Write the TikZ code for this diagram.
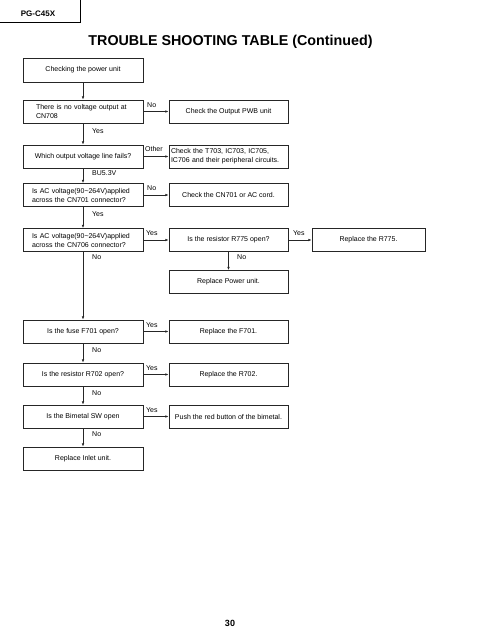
\documentclass[tikz,border=0pt]{standalone}
\usepackage{fontspec}
\setmainfont{Liberation Sans}
\usetikzlibrary{arrows.meta}
\begin{document}
\begin{tikzpicture}[x=1pt,y=-1pt,
 box/.style={draw=black!85, line width=0.8pt, minimum height=23pt, inner sep=0pt, font=\fontsize{7}{9}\selectfont, align=center},
 lbox/.style={box, minimum width=120pt},
 rbox/.style={box, minimum width=119pt},
 lbl/.style={font=\fontsize{7}{9}\selectfont, anchor=west, inner sep=0pt},
 arr/.style={draw=black!85, line width=0.7pt, -{Latex[length=3.2pt,width=2.6pt]}}
]
\useasboundingbox (0,0) rectangle (495,640);
% header
\coordinate (hA) at (0,22);
\coordinate (hB) at (80,22);
\coordinate (hC) at (80,0);
\draw[line width=0.8pt] (hA) -- (hB) -- (hC);
\node[font=\bfseries\fontsize{8}{10}\selectfont, inner sep=0pt] (model) at (38,14) {PG-C45X};
\node[font=\bfseries\fontsize{14.3}{16}\selectfont, inner sep=0pt] (title) at (230.5,42) {TROUBLE SHOOTING TABLE (Continued)};

% left column
\node[lbox, minimum height=24pt] (b1) at (83,70) {Checking the power unit};
\node[lbox, align=left, text width=94pt, inner xsep=13pt] (b2) at (83,111.5) {There is no voltage output at\\CN708};
\node[lbox] (b3) at (83,156.5) {Which output voltage line fails?};
\node[lbox, align=left, text width=102pt, inner xsep=9pt] (b4) at (83,195) {Is AC voltage(90\textasciitilde264V)applied\\across the CN701 connector?};
\node[lbox, align=left, text width=102pt, inner xsep=9pt] (b5) at (83,240) {Is AC voltage(90\textasciitilde264V)applied\\across the CN706 connector?};
\node[lbox] (b6) at (83,331.5) {Is the fuse F701 open?};
\node[lbox] (b7) at (83,374.5) {Is the resistor R702 open?};
\node[lbox] (b8) at (83,416.5) {Is the Bimetal SW open};
\node[lbox] (b9) at (83,458.5) {Replace Inlet unit.};

% right column
\node[rbox] (r2) at (228.5,111.5) {Check the Output PWB unit};
\node[rbox, align=left, text width=115pt, inner xsep=2pt] (r3) at (228.5,156.5) {Check the T703, IC703, IC705,\\IC706 and their peripheral circuits.};
\node[rbox] (r4) at (228.5,195) {Check the CN701 or AC cord.};
\node[rbox] (r5) at (228.5,240) {Is the resistor R775 open?};
\node[rbox] (rp) at (228.5,282) {Replace Power unit.};
\node[rbox] (r6) at (228.5,331.5) {Replace the F701.};
\node[rbox] (r7) at (228.5,374.5) {Replace the R702.};
\node[rbox] (r8) at (228.5,416.5) {Push the red button of the bimetal.};
\node[box, minimum width=113pt] (x5) at (368.5,240) {Replace the R775.};

% vertical arrows
\draw[arr] (b1) -- (b2);
\draw[arr] (b2) -- (b3);
\draw[arr] (b3) -- (b4);
\draw[arr] (b4) -- (b5);
\draw[arr] (b5) -- (b6);
\draw[arr] (b6) -- (b7);
\draw[arr] (b7) -- (b8);
\draw[arr] (b8) -- (b9);
\draw[arr] (r5) -- (rp);

% horizontal arrows
\draw[arr] (b2.east |- r2) -- (r2);
\draw[arr] (b3.east |- r3) -- (r3);
\draw[arr] (b4.east |- r4) -- (r4);
\draw[arr] (b5.east |- r5) -- (r5);
\draw[arr] (r5) -- (x5);
\draw[arr] (b6.east |- r6) -- (r6);
\draw[arr] (b7.east |- r7) -- (r7);
\draw[arr] (b8.east |- r8) -- (r8);

% labels
\node[lbl] (l1) at (92,131) {Yes};
\node[lbl] (l2) at (92,173) {BU5.3V};
\node[lbl] (l3) at (92,214) {Yes};
\node[lbl] (l4) at (92,257) {No};
\node[lbl] (l5) at (92,350) {No};
\node[lbl] (l6) at (92,393) {No};
\node[lbl] (l7) at (92,434) {No};
\node[lbl] (m1) at (147,105) {No};
\node[lbl] (m2) at (145,148.5) {Other};
\node[lbl] (m3) at (147,188) {No};
\node[lbl] (m4) at (146,233) {Yes};
\node[lbl] (m5) at (293,233) {Yes};
\node[lbl] (m6) at (237,257) {No};
\node[lbl] (m7) at (146,325) {Yes};
\node[lbl] (m8) at (146,368.5) {Yes};
\node[lbl] (m9) at (146,410.5) {Yes};

\node[font=\bfseries\fontsize{9}{11}\selectfont, inner sep=0pt] (page) at (230,623) {30};
\end{tikzpicture}
\end{document}
